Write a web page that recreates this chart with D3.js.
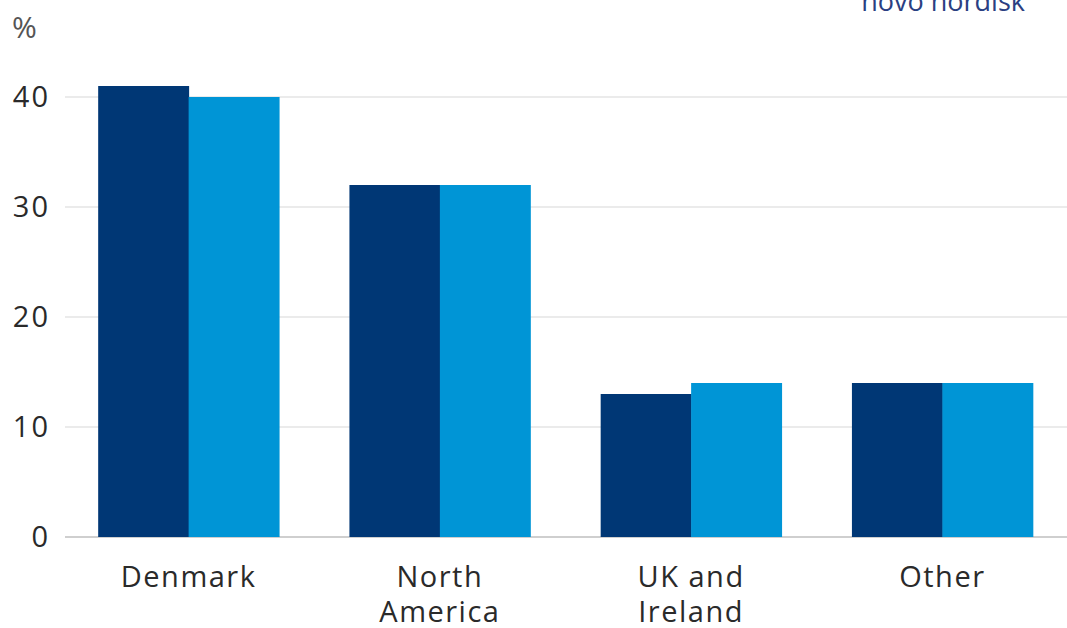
<!DOCTYPE html>
<html><head><meta charset="utf-8">
<script src="https://cdn.jsdelivr.net/npm/d3@7"></script>
<style>
body{margin:0;background:#fff;}
text{font-family:"Open Sans","Noto Sans",sans-serif;}
</style></head>
<body><svg id="c" width="1067" height="628"></svg>
<script>
const categories = [["Denmark"],["North","America"],["UK and","Ireland"],["Other"]];
const seriesA = [41, 32, 13, 14];
const seriesB = [40, 32, 14, 14];
const yTicks = [0,10,20,30,40];
const colors = ["#003775","#0095d6"];

const svg = d3.select("#c");
const keys = categories.map(c=>c.join(" "));
const x = d3.scaleBand().domain(keys).range([63,1068]).paddingInner(0.28).paddingOuter(0.14);
const xi = d3.scaleBand().domain([0,1]).range([0,x.bandwidth()]);
const y = d3.scaleLinear().domain([0,40]).range([537,97]);

// gridlines
svg.append("g").selectAll("line").data(yTicks).join("line")
  .attr("x1",65).attr("x2",1067)
  .attr("y1",d=>y(d)).attr("y2",d=>y(d))
  .attr("stroke",d=>d===0?"#cfcfcf":"#e4e4e4").attr("stroke-width",d=>d===0?2:1.5);

// y labels
svg.append("g").selectAll("text").data(yTicks).join("text")
  .attr("x",50).attr("y",d=>y(d)).attr("dy","0.36em")
  .attr("text-anchor","end").attr("font-size",29).attr("fill","#2a2a2a")
  .attr("letter-spacing",2)
  .text(d=>d);

svg.append("text").attr("x",12).attr("y",38).attr("font-size",30).attr("fill","#555").text("%");

// bars
const data = keys.map((k,i)=>({k, v:[seriesA[i],seriesB[i]]}));
const g = svg.append("g").selectAll("g").data(data).join("g")
  .attr("transform",d=>`translate(${x(d.k)},0)`);
g.selectAll("rect").data(d=>d.v.map((v,j)=>({v,j}))).join("rect")
  .attr("x",d=>xi(d.j)).attr("width",xi.bandwidth()+0.5)
  .attr("y",d=>y(d.v)).attr("height",d=>y(0)-y(d.v))
  .attr("fill",d=>colors[d.j]);

// x labels
const xl = svg.append("g").selectAll("text").data(categories).join("text")
  .attr("x",(d,i)=>x(keys[i])+x.bandwidth()/2).attr("y",587)
  .attr("text-anchor","middle").attr("font-size",29).attr("fill","#2a2a2a")
  .attr("letter-spacing",1.5);
xl.selectAll("tspan").data(d=>d).join("tspan")
  .attr("x",function(){return this.parentNode.getAttribute("x");})
  .attr("dy",(d,i)=>i===0?0:35).text(d=>d);

// logo text
svg.append("text").attr("x",1025).attr("y",11).attr("text-anchor","end")
  .attr("font-size",27).attr("fill","#2b3f82").text("novo nordisk");
</script></body></html>
